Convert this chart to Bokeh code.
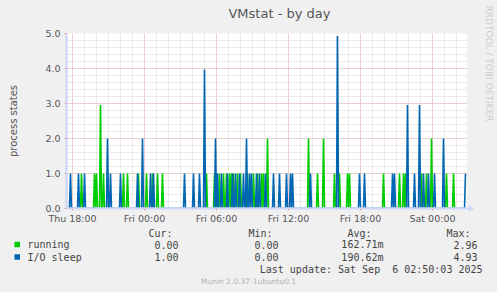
import math
from bokeh.plotting import figure
from bokeh.layouts import column, row
from bokeh.models import (FixedTicker, Label, Range1d, BoxAnnotation, Span, PolyAnnotation)
from bokeh.embed import file_html
from bokeh.resources import INLINE

# ---------------- data ----------------
# 5-minute samples; slot 0 = Thu 17:30, slot 399 = Sat 02:45
N_SLOTS = 400
START_HOUR = -0.5          # hours relative to Thu 18:00

running_slots = [15, 28, 30, 34, 37, 57, 61, 72, 80, 86, 91, 96,
                 140, 148, 150, 153, 157, 160, 163, 165, 167, 171, 174, 181,
                 187, 191, 195, 197, 201, 242, 251, 257, 268, 273, 281, 283,
                 317, 333, 337, 339, 355, 360, 365, 380, 387]
running_values = [1, 1, 1, 2.96, 1, 1, 1, 1, 1, 1, 1, 1,
                  1, 1, 1, 1, 1, 1, 1, 1, 1, 1, 1, 1,
                  1, 1, 1, 1, 2, 2, 1, 2, 1, 1, 1, 1,
                  1, 1, 1, 1, 1, 1, 2, 1, 1]

iosleep_slots = [4, 12, 18, 41, 44, 54, 71, 76, 84, 87, 118, 127, 133, 138,
                 149, 151, 155, 161, 166, 169, 173, 177, 180, 183, 185, 190,
                 193, 199, 207, 213, 220, 224, 226, 244, 271, 293, 298, 326,
                 328, 341, 348, 353, 357, 362, 368, 377, 399]
iosleep_values = [1, 1, 1, 2, 1, 1, 1, 2, 1, 1, 1, 1, 1, 3.97,
                  2, 1, 1, 1, 1, 1, 1, 1, 2, 1, 1, 1,
                  1, 1, 1, 1, 1, 1, 1, 1, 4.93, 1, 1, 1,
                  1, 2.96, 1, 2.96, 1, 1, 1, 2, 1]

x_tick_hours = [0, 6, 12, 18, 24, 30]
x_tick_labels = ["Thu 18:00", "Fri 00:00", "Fri 06:00", "Fri 12:00",
                 "Fri 18:00", "Sat 00:00"]
y_ticks = [0, 1, 2, 3, 4, 5]
y_tick_labels = ["0.0", "1.0", "2.0", "3.0", "4.0", "5.0"]

legend_names = ["running", "I/O sleep"]
legend_colors = ["#00CC00", "#0066B3"]
cur_vals = ["0.00", "1.00"]
min_vals = ["0.00", "0.00"]
avg_vals = ["162.71m", "190.62m"]
max_vals = ["2.96", "4.93"]
title_text = "VMstat - by day"
watermark = "RRDTOOL / TOBI OETIKER"
last_update = "Last update: Sat Sep \u00a06 02:50:03 2025"
version_text = "Munin 2.0.37-1ubuntu0.1"


def build(slots, vals):
    y = [0.0] * N_SLOTS
    for s, v in zip(slots, vals):
        y[s] = v
    return y


hours = [START_HOUR + i / 12 for i in range(N_SLOTS)]
running = build(running_slots, running_values)
iosleep = build(iosleep_slots, iosleep_values)

# ---------------- geometry (page pixels) ----------------
W, H = 497, 292
HEAD = 27                  # header strip height
TOP_PAD = 6                # chart figure top border
FL, FR, FT, FB = 66, 467, 33, 208
SPLIT = 226                # legend block starts here
PX_PER_HOUR = 12.0
BG = "#F0F0F0"
AXIS = "#CFD6F8"
SANS = "DejaVu Sans"
MONO = "DejaVu Sans Mono"


def pixel_fig(w, h, x0, y0):
    f = figure(width=w, height=h, output_backend="svg", toolbar_location=None,
               x_range=Range1d(x0, x0 + w), y_range=Range1d(y0 + h, y0),
               x_axis_location=None, y_axis_location=None,
               min_border_left=0, min_border_right=0, min_border_top=0, min_border_bottom=0)
    f.border_fill_color = BG
    f.background_fill_color = BG
    f.outline_line_color = None
    f.grid.visible = False
    return f


def lab(f, text, px, py, font=MONO, size="10px", color="#444444", align="left", angle=0.0):
    f.add_layout(Label(x=px, y=py, text=text, text_font=font, angle=angle,
                       text_font_size=size, text_color=color, text_align=align,
                       text_baseline="middle"))


# header with the title
head = pixel_fig(FR, HEAD, 0, 0)
lab(head, title_text, 248, 13, font=SANS, size="13px", color="#555555", align="center")

# chart
p = figure(width=FR, height=SPLIT - HEAD, output_backend="svg", toolbar_location=None,
           x_range=Range1d(START_HOUR, START_HOUR + (FR - FL) / PX_PER_HOUR),
           y_range=Range1d(0, 5),
           min_border_left=FL, min_border_right=0,
           min_border_top=TOP_PAD, min_border_bottom=SPLIT - FB)
p.border_fill_color = BG
p.background_fill_color = "#FFFFFF"
p.outline_line_color = None

xt = FixedTicker(ticks=x_tick_hours, minor_ticks=list(range(0, 33)))
yt = FixedTicker(ticks=y_ticks, minor_ticks=[round(0.2 * k, 1) for k in range(26)])
p.xaxis.ticker = xt
p.yaxis.ticker = yt
p.xaxis.major_label_overrides = dict(zip(x_tick_hours, x_tick_labels))
p.yaxis.major_label_overrides = dict(zip(y_ticks, y_tick_labels))
for ax in (p.xaxis[0], p.yaxis[0]):
    ax.axis_line_color = AXIS
    ax.axis_line_width = 2
    ax.major_tick_in = 0
    ax.major_tick_out = 2
    ax.major_tick_line_color = "#E0A0A0"
    ax.minor_tick_in = 0
    ax.minor_tick_out = 0
    ax.major_label_text_font = SANS
    ax.major_label_text_font_size = "9.5px"
    ax.major_label_text_color = "#555555"
p.xaxis.major_label_standoff = 2
p.yaxis.major_label_standoff = 4
p.yaxis.axis_label = "process states"
p.yaxis.axis_label_text_font = SANS
p.yaxis.axis_label_text_font_size = "10px"
p.yaxis.axis_label_text_font_style = "normal"
p.yaxis.axis_label_text_color = "#555555"
p.yaxis.axis_label_standoff = 23

for g, t in ((p.xgrid[0], xt), (p.ygrid[0], yt)):
    g.ticker = t
    g.grid_line_color = "#EBB4B4"
    g.grid_line_dash = "1 1"
    g.grid_line_width = 1
    g.minor_grid_line_color = "#D6D6D6"
    g.minor_grid_line_dash = "1 1"
    g.minor_grid_line_width = 1

p.line(hours, running, line_color=legend_colors[0], line_width=1.6)
p.line(hours, iosleep, line_color=legend_colors[1], line_width=1.6)

# axis lines drawn over the zero values
p.add_layout(Span(location=0, dimension="width", line_color=AXIS, line_width=2))
p.add_layout(Span(location=START_HOUR, dimension="height", line_color=AXIS, line_width=2))

# right strip with the rrdtool watermark and the x-axis arrow head
strip = pixel_fig(W - FR, SPLIT, FR, 0)
lab(strip, watermark, 488.5, 5, font=SANS, size="9px", color="#CCCCCC",
    align="left", angle=-math.pi / 2)
strip.add_layout(BoxAnnotation(left=FR, right=469, top=FB - 1, bottom=FB + 1,
                               fill_color=AXIS, fill_alpha=1, line_color=None))
strip.add_layout(PolyAnnotation(xs=[468, 468, 473.5], ys=[FB - 3.5, FB + 3.5, FB],
                                fill_color=AXIS, fill_alpha=1, line_color=None))

# legend block
q = pixel_fig(W, H - SPLIT, 0, SPLIT)
for txt, px in (("Cur:", 172), ("Min:", 272), ("Avg:", 371), ("Max:", 470)):
    lab(q, txt, px, 233, align="right")

rows_y = [244, 256.5]
for i in range(2):
    yy = rows_y[i]
    q.add_layout(BoxAnnotation(left=14, right=19.5, bottom=yy + 2.8, top=yy - 2.8,
                               fill_color=legend_colors[i], fill_alpha=1, line_color=None))
    lab(q, legend_names[i], 27, yy)
    lab(q, cur_vals[i], 178, yy, align="right")
    lab(q, min_vals[i], 278, yy, align="right")
    lab(q, avg_vals[i], 383, yy, align="right")
    lab(q, max_vals[i], 477, yy, align="right")

lab(q, last_update, 482, 268.7, align="right")
lab(q, version_text, 248, 280.7, font=SANS, size="7.5px", color="#B0B0B0", align="center")

st = {"background-color": BG}
layout = column(row(column(head, p, spacing=0, styles=st), strip, spacing=0, styles=st),
                q, spacing=0, styles=st)
open("out.html", "w").write(file_html(layout, INLINE))
